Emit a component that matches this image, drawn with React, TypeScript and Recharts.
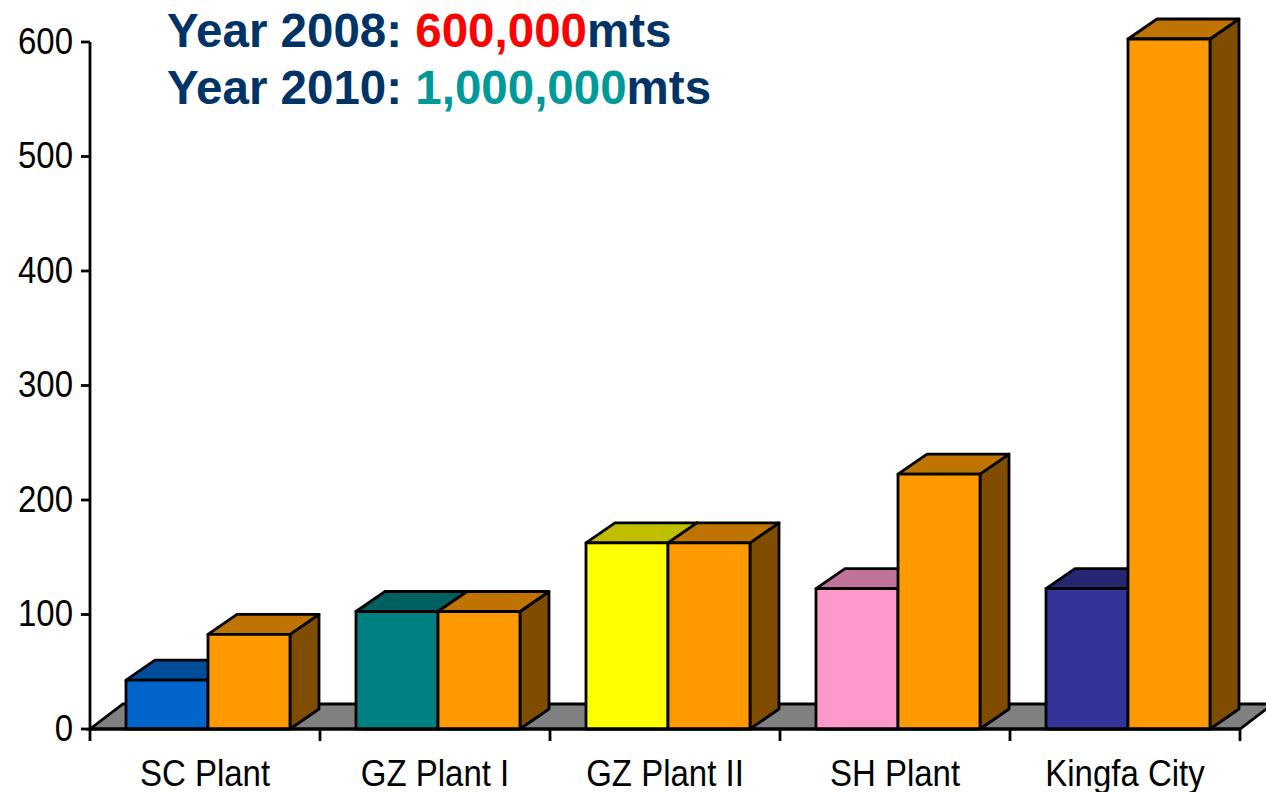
import { Bar, BarChart, Cell, ReferenceArea, XAxis, YAxis } from 'recharts';

const plants = ['SC Plant', 'GZ Plant I', 'GZ Plant II', 'SH Plant', 'Kingfa City'];
const year2008 = [40, 100, 160, 120, 120];
const year2010 = [80, 100, 160, 220, 600];
const yTicks = [0, 100, 200, 300, 400, 500, 600];

const FRONT_2008 = ['#0066CC', '#008080', '#FFFF00', '#FF99CC', '#333399'];
const FRONT_2010 = '#FF9900';
const FLOOR = '#808080';
const TITLE_NAVY = '#003366';
const FONT = '"Liberation Sans", Arial, sans-serif';

// depth of the fake 3D extrusion
const DX = 29;
const DY = -20;
const SHIFT = 3;
// the original's boxes poke a few px above their value line
const LIFT = 3;

const data = plants.map((name, i) => ({ name, y2008: year2008[i], y2010: year2010[i] }));

function shade(hex: string, f: number) {
  const n = parseInt(hex.slice(1), 16);
  const c = [(n >> 16) & 255, (n >> 8) & 255, n & 255].map((v) => Math.round(v * f));
  return `rgb(${c[0]},${c[1]},${c[2]})`;
}

function Box3D(props: any) {
  const { x, width, fill } = props;
  if (!props.height || props.height <= 0) return null;
  const y = props.y - LIFT;
  const height = props.height + LIFT;
  const x0 = x + SHIFT;
  const x1 = x0 + width;
  const yb = y + height;
  const stroke = { stroke: '#000', strokeWidth: 2.8, strokeLinejoin: 'round' as const };
  return (
    <g>
      <polygon
        points={`${x1},${y} ${x1 + DX},${y + DY} ${x1 + DX},${yb + DY} ${x1},${yb}`}
        fill={shade(fill, 0.5)}
        {...stroke}
      />
      <polygon
        points={`${x0},${y} ${x1},${y} ${x1 + DX},${y + DY} ${x0 + DX},${y + DY}`}
        fill={shade(fill, 0.75)}
        {...stroke}
      />
      <rect x={x0} y={y} width={width} height={height} fill={fill} {...stroke} />
    </g>
  );
}

// grey floor plus the category boundary ticks under the x axis
function Floor(props: any) {
  const { x, y, width, height } = props;
  const yb = y + height;
  const n = plants.length;
  const fdx = 33;
  const fdy = -25;
  return (
    <g>
      <polygon
        points={`${x},${yb} ${x + width},${yb} ${x + width + fdx},${yb + fdy} ${x + fdx},${yb + fdy}`}
        fill={FLOOR}
        stroke="#000"
        strokeWidth={2.8}
      />
      {Array.from({ length: n + 1 }, (_, i) => (
        <line
          key={i}
          x1={x + (i * width) / n}
          x2={x + (i * width) / n}
          y1={yb}
          y2={yb + 12}
          stroke="#000"
          strokeWidth={2.8}
        />
      ))}
    </g>
  );
}

function CategoryTick(props: any) {
  const { x, y, payload } = props;
  return (
    <text
      x={x}
      y={y + 55}
      textAnchor="middle"
      fontSize={33}
      fill="#000"
      fontFamily={FONT}
      transform={`translate(0 ${-(y + 55) * 0.12}) scale(1 1.12)`}
    >
      {payload.value}
    </text>
  );
}

function ValueTick(props: any) {
  const { x, y, payload } = props;
  return (
    <text
      x={x}
      y={y + 12}
      textAnchor="end"
      fontSize={33}
      fill="#000"
      fontFamily={FONT}
      transform={`translate(0 ${-(y + 12) * 0.12}) scale(1 1.12)`}
    >
      {payload.value}
    </text>
  );
}

export default function App() {
  return (
    <div style={{ position: 'absolute', left: 0, top: 0, width: 1266, height: 792, background: '#fff' }}>
      <BarChart
        width={1266}
        height={792}
        data={data}
        margin={{ top: 42, right: 26, bottom: 0, left: 0 }}
        barGap={0}
        barSize={82}
        style={{ fontFamily: FONT }}
      >
        <ReferenceArea y1={0} y2={600} shape={<Floor />} fill="none" stroke="none" />
        <XAxis
          dataKey="name"
          height={63}
          tickLine={false}
          tickSize={0}
          axisLine={{ stroke: '#000', strokeWidth: 2.8 }}
          tick={<CategoryTick />}
          interval={0}
        />
        <YAxis
          width={90}
          domain={[0, 600]}
          ticks={yTicks}
          tickSize={9}
          tickMargin={8}
          axisLine={{ stroke: '#000', strokeWidth: 2.8 }}
          tickLine={{ stroke: '#000', strokeWidth: 2.8 }}
          tick={<ValueTick />}
        />
        <Bar dataKey="y2008" name="Year 2008" shape={<Box3D />} isAnimationActive={false}>
          {data.map((_, i) => (
            <Cell key={i} fill={FRONT_2008[i]} />
          ))}
        </Bar>
        <Bar dataKey="y2010" name="Year 2010" fill={FRONT_2010} shape={<Box3D />} isAnimationActive={false} />
      </BarChart>
      <div
        style={{
          position: 'absolute',
          left: 167,
          top: 2,
          fontFamily: FONT,
          fontWeight: 'bold',
          fontSize: 47.5,
          lineHeight: '57px',
          color: TITLE_NAVY,
          whiteSpace: 'nowrap',
        }}
      >
        <div>
          Year 2008: <span style={{ color: '#FF0000' }}>600,000</span>mts
        </div>
        <div>
          Year 2010: <span style={{ color: '#009999' }}>1,000,000</span>mts
        </div>
      </div>
    </div>
  );
}
